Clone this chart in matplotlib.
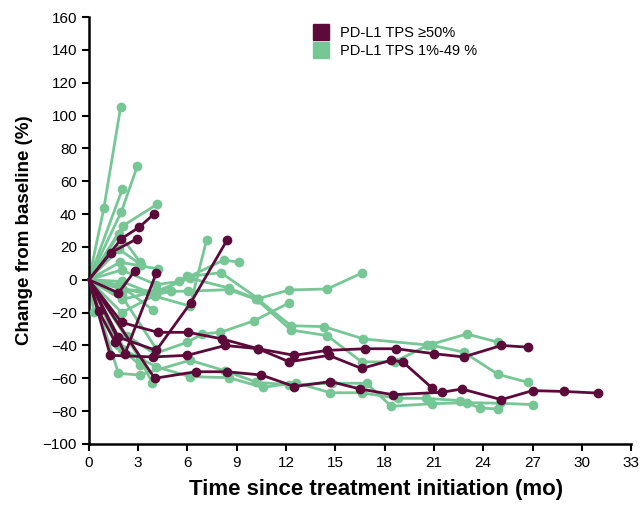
import matplotlib
matplotlib.use("Agg")
import matplotlib.pyplot as plt
from matplotlib.lines import Line2D

plt.rcParams['font.family'] = ['Liberation Sans', 'DejaVu Sans']

# Цвета групп
maroon = '#5b0a3a'
green = '#77c796'

# PD-L1 TPS >=50% (месяцы, % изменения)
high_x = [
    [0, 4.0, 6.5, 8.4, 10.5, 12.5, 14.7, 16.5, 18.5, 21.5, 22.7, 25.1, 27.0, 28.9, 31.0],
    [0, 1.3, 3.9, 6.0, 8.3, 10.3, 12.2, 14.6, 16.6, 18.4, 19.1, 20.9],
    [0, 2.0, 4.2, 6.05, 8.1, 10.3, 12.5, 14.5, 16.8, 18.7, 21.0, 22.8, 25.1, 26.7],
    [0, 1.8, 4.1, 6.2, 8.4],
    [0, 2.2, 4.1],
    [0, 1.8, 2.8],
    [0, 1.98, 3.06, 3.96],
    [0, 1.34, 2.94],
    [0, 0.6, 1.6],
]
high_y = [
    [0, -60, -56, -56, -58, -65, -62, -66.5, -70, -68.5, -66.5, -73, -67.5, -68, -69],
    [0, -46, -47, -46, -40, -42, -50, -46, -54, -49, -50, -66],
    [0, -26, -32, -32, -36, -42, -46, -43, -42, -42, -45, -47, -40, -41],
    [0, -35, -43, -14, 24],
    [0, -45, 4],
    [0, -8, 5.5],
    [0, 25, 32, 40],
    [0, 16.5, 25],
    [0, -19, -38],
]

# PD-L1 TPS 1%-49%
low_x = [
    [0, 0.91, 1.93],
    [0, 2.03],
    [0, 1.98, 2.94],
    [0, 2.09, 4.16],
    [0, 1.85, 3.1],
    [0, 1.83, 3.2],
    [0, 1.9, 4.2],
    [0, 2.0, 4.0, 6.15, 7.16],
    [0, 2.0, 4.1, 5.5, 8.2, 9.15],
    [0, 2.0, 4.0, 6.0, 8.04, 10.3, 12.2, 14.5, 16.6],
    [0, 2.1, 4.1, 6.15, 8.5, 10.3, 12.3, 14.3, 16.7, 20.9, 22.8, 24.9, 26.7],
    [0, 2.0, 4.1, 6.05, 8.5, 10.2, 12.3, 14.5, 16.6, 18.6, 20.6, 23.0, 24.9],
    [0, 2.0, 4.1, 6.15, 8.5, 10.6, 12.6, 14.7, 16.6, 18.8, 20.5, 22.6, 23.8, 24.9],
    [0, 1.8, 3.1, 6.15, 8.3, 10.2, 12.2, 14.8, 16.9, 18.4, 20.9, 23.0, 25.0, 27.0],
    [0, 2.3, 4.0, 6.0, 6.9, 8.0, 10.05, 12.2],
    [0, 0.3],
    [0, 1.84, 3.9],
    [0, 3.1, 3.87],
    [0, 2.0, 4.1, 5.0],
    [0, 2.0, 4.1],
    [0, 1.8, 3.1],
]
low_y = [
    [0, 43.5, 105],
    [0, 55],
    [0, 41.5, 69],
    [0, 33, 46],
    [0, 28, 11],
    [0, 18.6, 9],
    [0, 10.7, 6.6],
    [0, -5, -10, -16, 24],
    [0, 6, -3, -1, 12, 10.7],
    [0, -1, -9, 2, 4.3, -11.5, -6.2, -5.6, 4],
    [0, -6, -7, 1, -5, -12, -28, -28.5, -36, -40, -44, -57.6, -62.4],
    [0, -12, -7, -7, -6, -12, -30.6, -34, -50, -50, -40, -33, -38],
    [0, -42, -53, -59, -59.6, -65.5, -62.7, -68.8, -68.8, -72.2, -72.2, -73.6, -78, -78.7],
    [0, -57, -58, -49, -55.5, -62.4, -64, -63, -63, -77, -75.5, -74.8, -75.2, -76],
    [0, -34, -45, -38, -33, -32, -25, -14],
    [0, -19.5],
    [0, -3, -18.4],
    [0, -48, -63],
    [0, -20, -9, -7],
    [0, -10, -42],
    [0, -40, -52],
]

fig = plt.figure(figsize=(6.44, 5.08), dpi=100)
ax = fig.add_axes([0.138, 0.126, 0.842, 0.8405])

for xs, ys in zip(low_x, low_y):
    ax.plot(xs[1:], ys[1:], 'o', color=green, ms=6, clip_on=False, zorder=3)
    ax.plot(xs, ys, '-', color=green, lw=2, clip_on=False, zorder=2)
for xs, ys in zip(high_x, high_y):
    ax.plot(xs[1:], ys[1:], 'o', color=maroon, ms=6, clip_on=False, zorder=5)
    ax.plot(xs, ys, '-', color=maroon, lw=2, clip_on=False, zorder=4)

ax.set_xlim(0, 33)
ax.set_ylim(-100, 160)
ax.set_xticks(range(0, 34, 3))
ax.set_yticks(range(-100, 161, 20))
ax.spines['top'].set_visible(False)
ax.spines['right'].set_visible(False)
ax.spines['left'].set_linewidth(1.8)
ax.spines['bottom'].set_linewidth(1.8)
ax.tick_params(axis='both', direction='out', length=5, width=1.5, labelsize=11)
ax.set_xlabel('Time since treatment initiation (mo)', fontsize=16, fontweight='bold')
ax.xaxis.set_label_coords(0.53, -0.083)
ax.set_ylabel('Change from baseline (%)', fontsize=13.5, fontweight='bold', labelpad=7)

handles = [Line2D([], [], marker='s', color=maroon, ls='', ms=11),
           Line2D([], [], marker='s', color=green, ls='', ms=11)]
ax.legend(handles, ['PD-L1 TPS \u226550%', 'PD-L1 TPS 1%-49 %'],
          loc='upper left', bbox_to_anchor=(0.385, 1.0), frameon=False,
          fontsize=10.5, handletextpad=0.3, labelspacing=0.3, borderaxespad=0.2)

plt.savefig('out.png', dpi=100)
